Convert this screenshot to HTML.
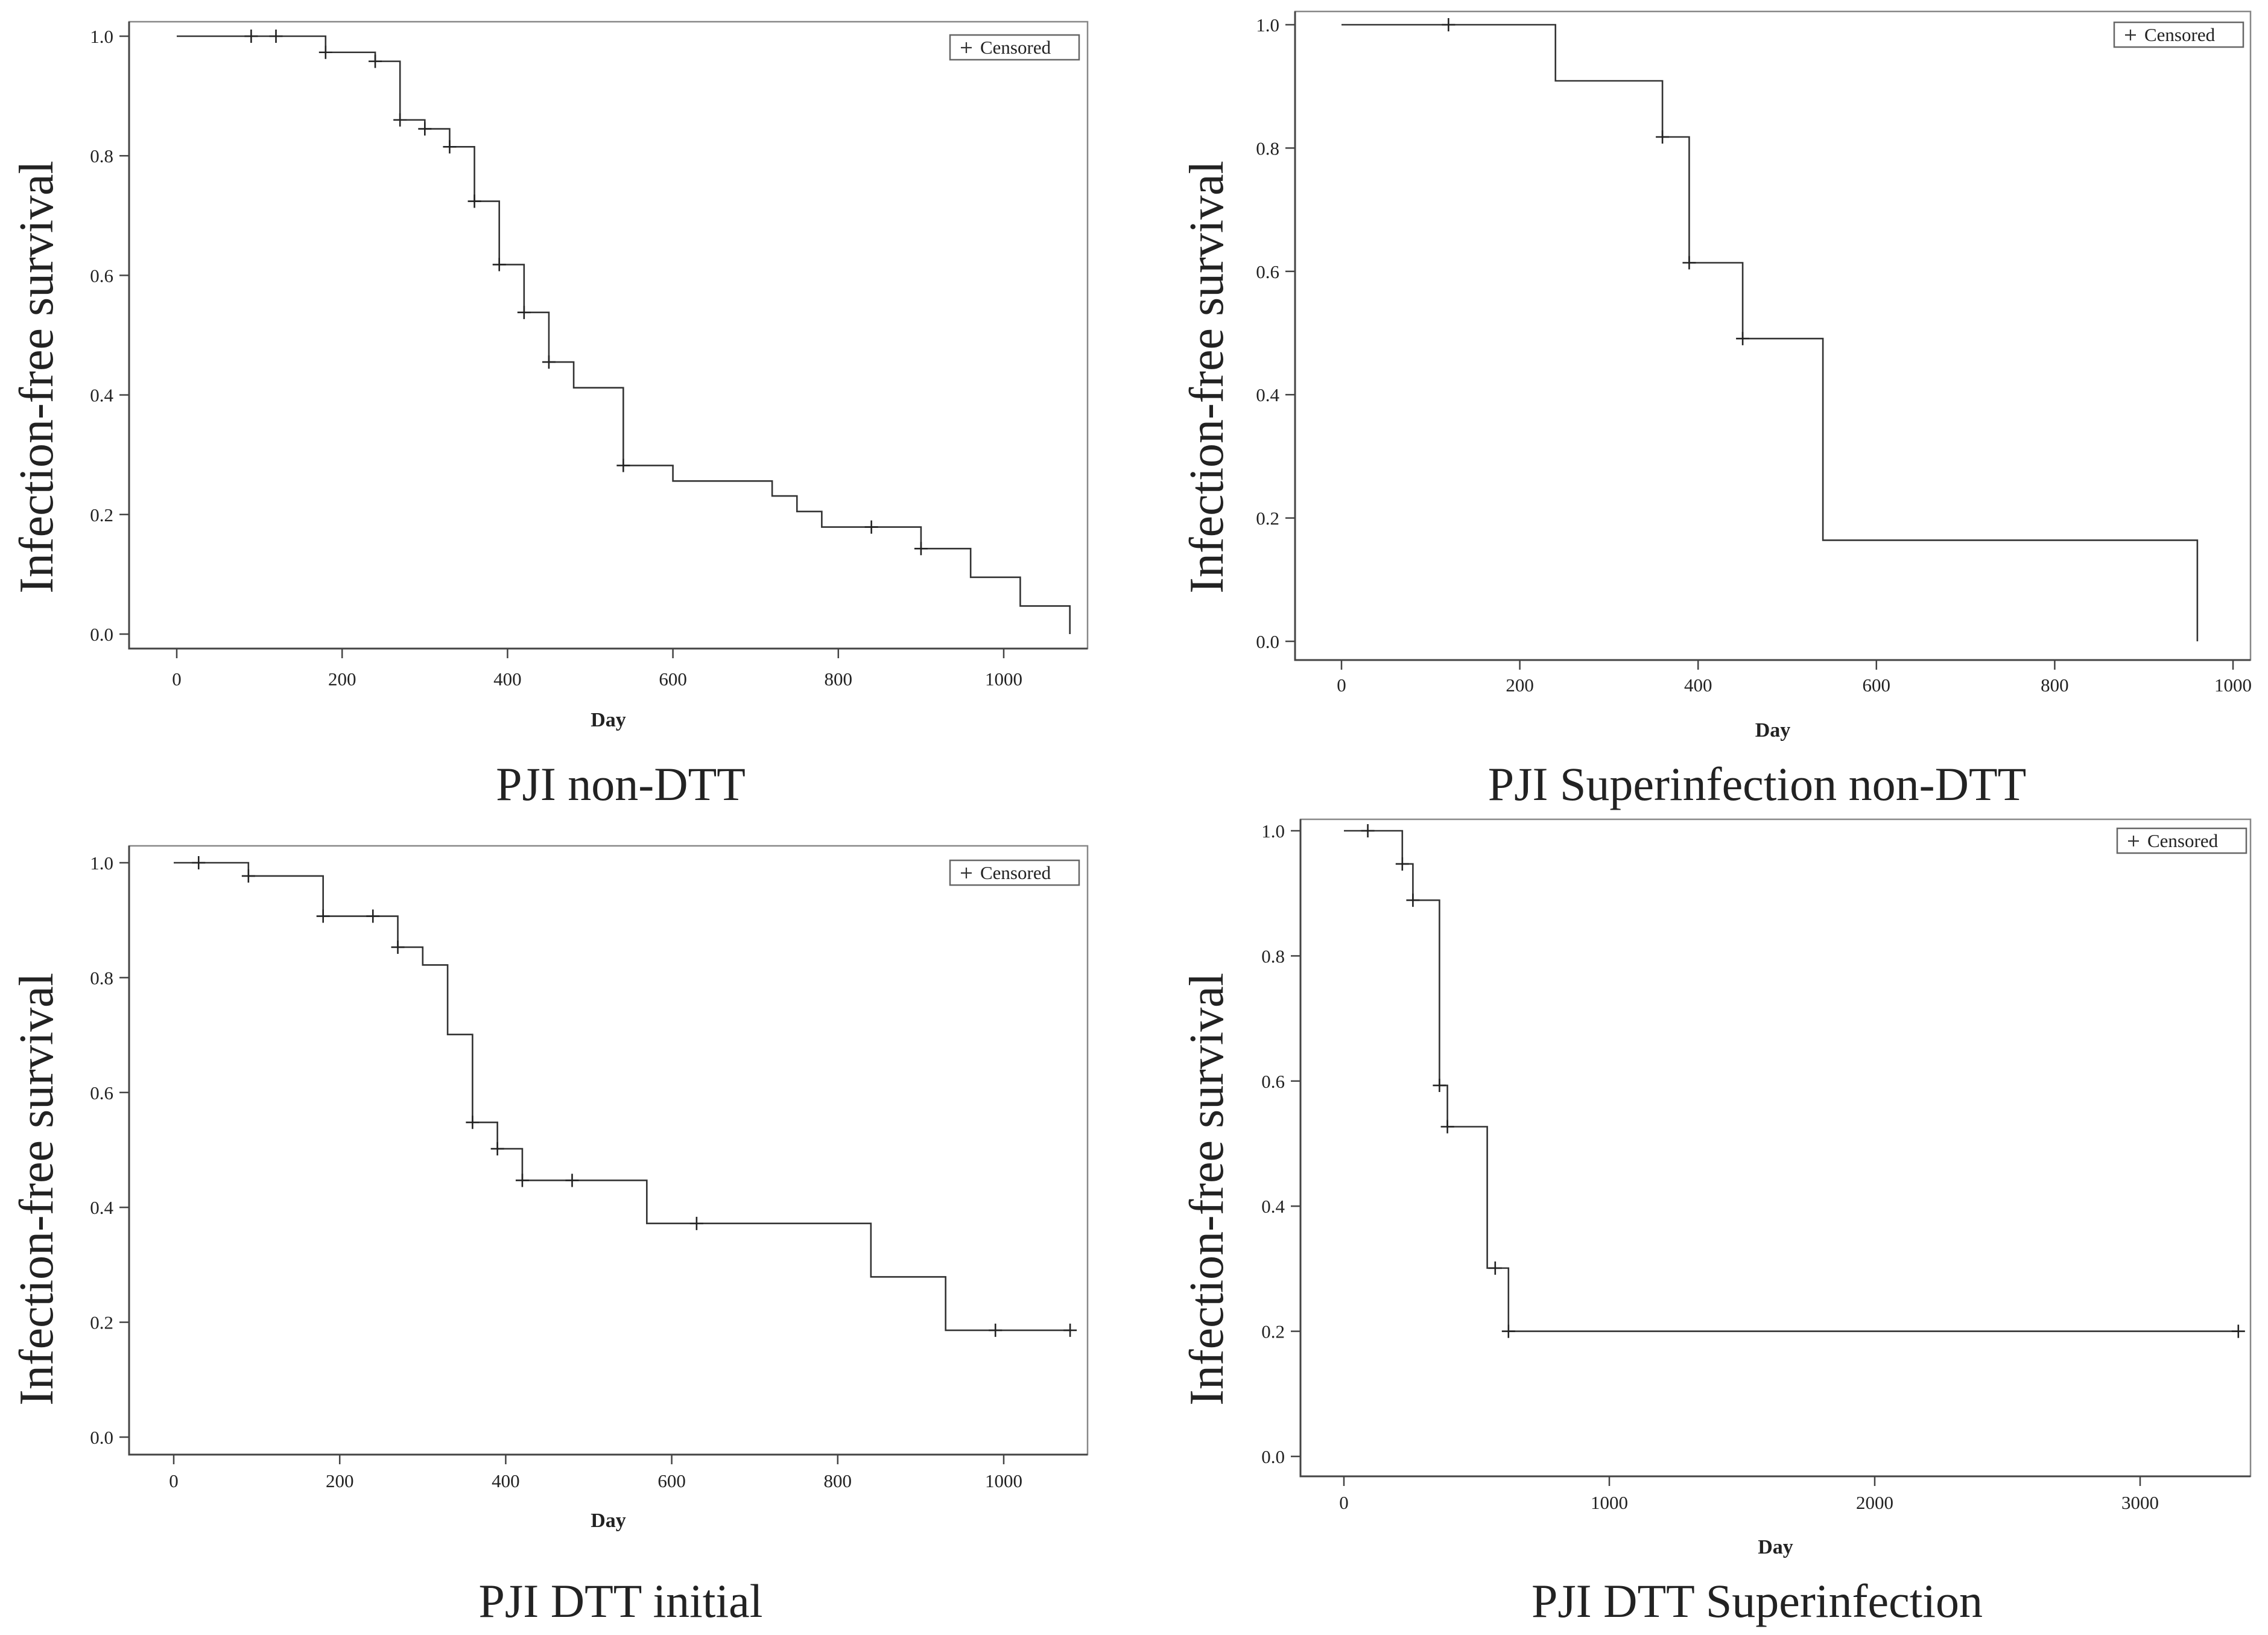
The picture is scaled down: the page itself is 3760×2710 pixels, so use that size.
<!DOCTYPE html>
<html><head><meta charset="utf-8"><style>
html,body{margin:0;padding:0;background:#fff}
svg{display:block}
text{font-family:"Liberation Serif",serif;fill:#222}
</style></head><body>
<svg id="c" width="3760" height="2710" viewBox="0 0 3760 2710" xmlns="http://www.w3.org/2000/svg"></svg>
<script>
// Panel 1: PJI non-DTT
const p1Times=[0,180,240,270,300,330,360,390,420,450,480,540,600,720,750,780,900,960,1020,1080];
const p1Surv=[1.0,0.973,0.958,0.86,0.845,0.815,0.724,0.618,0.538,0.455,0.412,0.282,0.256,0.231,0.205,0.179,0.143,0.095,0.047,0.0];
const p1CensT=[90,120,180,240,270,300,330,360,390,420,450,540,840,900];
const p1CensS=[1.0,1.0,0.973,0.958,0.86,0.845,0.815,0.724,0.618,0.538,0.455,0.282,0.179,0.143];
const p1XTicks=[0,200,400,600,800,1000];
// Panel 2: PJI Superinfection non-DTT
const p2Times=[0,240,360,390,450,540,960];
const p2Surv=[1.0,0.909,0.818,0.614,0.491,0.164,0.0];
const p2CensT=[120,360,390,450];
const p2CensS=[1.0,0.818,0.614,0.491];
const p2XTicks=[0,200,400,600,800,1000];
// Panel 3: PJI DTT initial
const p3Times=[0,90,180,270,300,330,360,390,420,570,840,930,1080];
const p3Surv=[1.0,0.977,0.907,0.853,0.822,0.701,0.548,0.502,0.447,0.372,0.279,0.186,0.186];
const p3CensT=[30,90,180,240,270,360,390,420,480,630,990,1080];
const p3CensS=[1.0,0.977,0.907,0.907,0.853,0.548,0.502,0.447,0.447,0.372,0.186,0.186];
const p3XTicks=[0,200,400,600,800,1000];
// Panel 4: PJI DTT Superinfection
const p4Times=[0,220,260,360,390,540,620,3370];
const p4Surv=[1.0,0.947,0.889,0.593,0.527,0.301,0.2,0.2];
const p4CensT=[90,220,260,360,390,570,620,3370];
const p4CensS=[1.0,0.947,0.889,0.593,0.527,0.301,0.2,0.2];
const p4XTicks=[0,1000,2000,3000];
const yTicks=[0.0,0.2,0.4,0.6,0.8,1.0];
const yTickLabels=["0.0","0.2","0.4","0.6","0.8","1.0"];

const NS="http://www.w3.org/2000/svg";
const svg=document.getElementById('c');
function mk(tag,attrs,parent){const e=document.createElementNS(NS,tag);for(const k in attrs)e.setAttribute(k,attrs[k]);(parent||svg).appendChild(e);return e;}

function panel(cfg,times,surv,censT,censS,xTicks,title,id){
  const g=mk('g',{});
  
  
  const xs=v=>cfg.x0+(v-0)*(cfg.x1000-cfg.x0)/cfg.xUnit;
  const ys=v=>cfg.y0+(cfg.y1-cfg.y0)*v;
  const fr=mk('rect',{x:cfg.L,y:cfg.T,width:cfg.R-cfg.L,height:cfg.B-cfg.T,fill:'none',stroke:'#888','stroke-width':2.5},g);
  
  
  const ax=mk('path',{d:`M${cfg.L},${cfg.T}V${cfg.B}H${cfg.R}`,fill:'none',stroke:'#444','stroke-width':3},g);
  
  
  yTicks.forEach((v,i)=>{
    const y=ys(v);
    const tk=mk('line',{x1:cfg.L-16,x2:cfg.L,y1:y,y2:y,stroke:'#444','stroke-width':2.5},g);
    
    
    const t=mk('text',{x:cfg.L-26,y:y+11,'font-size':31,'text-anchor':'end'},g);
    t.textContent=yTickLabels[i];
    
    
  });
  xTicks.forEach(v=>{
    const x=xs(v);
    const tk=mk('line',{x1:x,x2:x,y1:cfg.B,y2:cfg.B+16,stroke:'#444','stroke-width':2.5},g);
    
    
    const t=mk('text',{x:x,y:cfg.labY+11,'font-size':31,'text-anchor':'middle'},g);
    t.textContent=String(v);
    
    
  });
  const xt=mk('text',{x:(cfg.L+cfg.R)/2,y:cfg.dayY+12,'font-size':34,'font-weight':'bold','text-anchor':'middle'},g);
  xt.textContent='Day';
  
  
  const yt=mk('text',{x:0,y:0,'font-size':80,'text-anchor':'middle',transform:`translate(${cfg.ylx+27},${cfg.lyc}) rotate(-90)`},g);
  yt.textContent='Infection-free survival';
  
  
  const tt=mk('text',{x:cfg.titleX,y:cfg.titleY+26,'font-size':78,'text-anchor':'middle'},g);
  tt.textContent=title;
  
  
  let d=`M${xs(times[0])},${ys(surv[0])}`;
  for(let i=1;i<times.length;i++){d+=`H${xs(times[i])}V${ys(surv[i])}`;}
  const cur=mk('path',{d:d,fill:'none',stroke:'#333','stroke-width':2.6},g);
  
  
  censT.forEach((t,i)=>{
    const x=xs(t),y=ys(censS[i]);
    const c=mk('path',{d:`M${x-11},${y}H${x+11}M${x},${y-11}V${y+11}`,stroke:'#222','stroke-width':2.6},g);
    
    
  });
  const lg=mk('g',{},g);
  
  
  mk('rect',{x:cfg.lgx,y:cfg.lgy,width:214,height:41,fill:'#fff',stroke:'#666','stroke-width':2.5},lg);
  mk('path',{d:`M${cfg.lgx+18},${cfg.lgy+21}h18M${cfg.lgx+27},${cfg.lgy+12}v18`,stroke:'#333','stroke-width':2.2},lg);
  const lt=mk('text',{x:cfg.lgx+50,y:cfg.lgy+31,'font-size':31},lg);
  lt.textContent='Censored';
}
panel({L:214,R:1803,T:36,B:1075,y1:60,y0:1051,x0:293,x1000:1664,xUnit:1000,labY:1125,dayY:1192,ylx:60,lyc:625,titleX:1029,titleY:1300,lgx:1575,lgy:58},p1Times,p1Surv,p1CensT,p1CensS,p1XTicks,'PJI non-DTT','p1');
panel({L:2147,R:3731,T:19,B:1094,y1:41,y0:1063,x0:2224,x1000:3702,xUnit:1000,labY:1135,dayY:1209,ylx:2000,lyc:625,titleX:2913,titleY:1300,lgx:3505,lgy:37},p2Times,p2Surv,p2CensT,p2CensS,p2XTicks,'PJI Superinfection non-DTT','p2');
panel({L:214,R:1803,T:1402,B:2411,y1:1430,y0:2382,x0:288,x1000:1664,xUnit:1000,labY:2454,dayY:2519,ylx:60,lyc:1971,titleX:1029,titleY:2654,lgx:1575,lgy:1426},p3Times,p3Surv,p3CensT,p3CensS,p3XTicks,'PJI DTT initial','p3');
panel({L:2156,R:3731,T:1358,B:2447,y1:1377,y0:2414,x0:2228,x1000:2668,xUnit:1000,labY:2490,dayY:2563,ylx:2000,lyc:1971,titleX:2913,titleY:2654,lgx:3510,lgy:1373},p4Times,p4Surv,p4CensT,p4CensS,p4XTicks,'PJI DTT Superinfection','p4');
</script>
</body></html>
